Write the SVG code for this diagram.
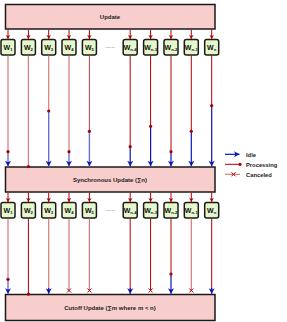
<svg xmlns="http://www.w3.org/2000/svg" width="287" height="322" viewBox="0 0 287 322">
<style>
.box{fill:#f8cecc;stroke:#1a1a1a;stroke-width:1.5}
.wk{fill:#e6f7cc;stroke:#1a1a1a;stroke-width:1.5}
.t{font-family:"Liberation Sans",Arial,sans-serif;font-weight:bold;font-size:6px;fill:#222;text-anchor:middle}
.wt{font-family:"Liberation Sans",Arial,sans-serif;font-weight:bold;font-size:7px;fill:#111;text-anchor:middle}
.sub{font-size:4.2px}
.lg{font-family:"Liberation Sans",Arial,sans-serif;font-weight:bold;font-size:5.8px;fill:#222}
.r{stroke:#b20000;stroke-width:1;fill:none}
.rl{stroke:#d67b7b;stroke-width:1.2;fill:none}
.b{stroke:#0a14b8;stroke-width:1.2;fill:none;marker-end:url(#ab)}
.bl{stroke:#6b6fd0;stroke-width:1.4;fill:none;marker-end:url(#ab)}
.d{fill:#a80000}
.x{stroke:#b20000;stroke-width:1;fill:none}
.sa{stroke:#b20000;stroke-width:1;fill:none;marker-end:url(#ar)}
</style>
<defs>
<marker id="ab" markerUnits="userSpaceOnUse" markerWidth="8" markerHeight="8" viewBox="-7 -4 8 8" refX="0" refY="0" orient="auto">
<path d="M-5.5,-3 L0,0 L-5.5,3 L-4,0 Z" fill="#0a14b8"/>
</marker>
<marker id="ar" markerUnits="userSpaceOnUse" markerWidth="6" markerHeight="6" viewBox="-5 -3 6 6" refX="0" refY="0" orient="auto">
<path d="M-4,-2.2 L0,0 L-4,2.2 L-3,0 Z" fill="#b20000"/>
</marker>
</defs>

<g id="update"><rect class="box" x="5.5" y="4.5" width="209.5" height="24.5"/><text class="t" x="110" y="19">Update</text></g>
<g id="sync"><rect class="box" x="5.5" y="167" width="209.5" height="25"/><text class="t" x="110" y="182">Synchronous Update (∑n)</text></g>
<g id="cutoff"><rect class="box" x="5.5" y="294.5" width="209.5" height="26"/><text class="t" x="110" y="310">Cutoff Update (∑m where m &lt; n)</text></g>

<g id="workers1">
<g id="w1a"><rect class="wk" x="1" y="39.5" width="14" height="15.5" rx="2"/><text class="wt" x="8" y="49.5">W<tspan class="sub" dy="1.5">1</tspan></text></g>
<g id="w2a"><rect class="wk" x="21.4" y="39.5" width="14" height="15.5" rx="2"/><text class="wt" x="28.4" y="49.5">W<tspan class="sub" dy="1.5">2</tspan></text></g>
<g id="w3a"><rect class="wk" x="41.7" y="39.5" width="14" height="15.5" rx="2"/><text class="wt" x="48.7" y="49.5">W<tspan class="sub" dy="1.5">3</tspan></text></g>
<g id="w4a"><rect class="wk" x="62" y="39.5" width="14" height="15.5" rx="2"/><text class="wt" x="69" y="49.5">W<tspan class="sub" dy="1.5">4</tspan></text></g>
<g id="w5a"><rect class="wk" x="82.4" y="39.5" width="14" height="15.5" rx="2"/><text class="wt" x="89.4" y="49.5">W<tspan class="sub" dy="1.5">5</tspan></text></g>
<text class="t" x="110" y="48" style="font-weight:normal">......</text>
<g id="wn4a"><rect class="wk" x="123.2" y="39.5" width="14" height="15.5" rx="2"/><text class="wt" x="130.2" y="49.5">W<tspan class="sub" dy="1.5">n-4</tspan></text></g>
<g id="wn3a"><rect class="wk" x="143.6" y="39.5" width="14" height="15.5" rx="2"/><text class="wt" x="150.6" y="49.5">W<tspan class="sub" dy="1.5">n-3</tspan></text></g>
<g id="wn2a"><rect class="wk" x="164" y="39.5" width="14" height="15.5" rx="2"/><text class="wt" x="171" y="49.5">W<tspan class="sub" dy="1.5">n-2</tspan></text></g>
<g id="wn1a"><rect class="wk" x="184.3" y="39.5" width="14" height="15.5" rx="2"/><text class="wt" x="191.3" y="49.5">W<tspan class="sub" dy="1.5">n-1</tspan></text></g>
<g id="wna"><rect class="wk" x="204.7" y="39.5" width="14" height="15.5" rx="2"/><text class="wt" x="211.7" y="49.5">W<tspan class="sub" dy="1.5">n</tspan></text></g>
</g>

<g id="workers2">
<g id="w1b"><rect class="wk" x="1" y="202.5" width="14" height="15.5" rx="2"/><text class="wt" x="8" y="212.5">W<tspan class="sub" dy="1.5">1</tspan></text></g>
<g id="w2b"><rect class="wk" x="21.4" y="202.5" width="14" height="15.5" rx="2"/><text class="wt" x="28.4" y="212.5">W<tspan class="sub" dy="1.5">2</tspan></text></g>
<g id="w3b"><rect class="wk" x="41.7" y="202.5" width="14" height="15.5" rx="2"/><text class="wt" x="48.7" y="212.5">W<tspan class="sub" dy="1.5">3</tspan></text></g>
<g id="w4b"><rect class="wk" x="62" y="202.5" width="14" height="15.5" rx="2"/><text class="wt" x="69" y="212.5">W<tspan class="sub" dy="1.5">4</tspan></text></g>
<g id="w5b"><rect class="wk" x="82.4" y="202.5" width="14" height="15.5" rx="2"/><text class="wt" x="89.4" y="212.5">W<tspan class="sub" dy="1.5">5</tspan></text></g>
<text class="t" x="110" y="211" style="font-weight:normal">......</text>
<g id="wn4b"><rect class="wk" x="123.2" y="202.5" width="14" height="15.5" rx="2"/><text class="wt" x="130.2" y="212.5">W<tspan class="sub" dy="1.5">n-4</tspan></text></g>
<g id="wn3b"><rect class="wk" x="143.6" y="202.5" width="14" height="15.5" rx="2"/><text class="wt" x="150.6" y="212.5">W<tspan class="sub" dy="1.5">n-3</tspan></text></g>
<g id="wn2b"><rect class="wk" x="164" y="202.5" width="14" height="15.5" rx="2"/><text class="wt" x="171" y="212.5">W<tspan class="sub" dy="1.5">n-2</tspan></text></g>
<g id="wn1b"><rect class="wk" x="184.3" y="202.5" width="14" height="15.5" rx="2"/><text class="wt" x="191.3" y="212.5">W<tspan class="sub" dy="1.5">n-1</tspan></text></g>
<g id="wnb"><rect class="wk" x="204.7" y="202.5" width="14" height="15.5" rx="2"/><text class="wt" x="211.7" y="212.5">W<tspan class="sub" dy="1.5">n</tspan></text></g>
</g>

<g id="connectors">
<path class="sa" d="M8,29.8V39"/><path class="sa" d="M28.4,29.8V39"/><path class="sa" d="M48.7,29.8V39"/><path class="sa" d="M69,29.8V39"/><path class="sa" d="M89.4,29.8V39"/>
<path class="sa" d="M130.2,29.8V39"/><path class="sa" d="M150.6,29.8V39"/><path class="sa" d="M171,29.8V39"/><path class="sa" d="M191.3,29.8V39"/><path class="sa" d="M211.7,29.8V39"/>
<path class="sa" d="M8,192.8V202"/><path class="sa" d="M28.4,192.8V202"/><path class="sa" d="M48.7,192.8V202"/><path class="sa" d="M69,192.8V202"/><path class="sa" d="M89.4,192.8V202"/>
<path class="sa" d="M130.2,192.8V202"/><path class="sa" d="M150.6,192.8V202"/><path class="sa" d="M171,192.8V202"/><path class="sa" d="M191.3,192.8V202"/><path class="sa" d="M211.7,192.8V202"/>

<path class="rl" d="M8,55.5V151.7 M28.4,55.5V166.5 M48.7,55.5V111 M69,55.5V151.7"/>
<path class="r" style="stroke:#c04545" d="M89.4,55.5V131.3"/>
<path class="r" d="M130.2,55.5V146.7 M150.6,55.5V126.3 M171,55.5V151.7 M191.3,55.5V131.3 M211.7,55.5V105.7"/>
<path class="bl" d="M8,151.7V166.3"/><path class="bl" d="M48.7,111V166.3"/><path class="bl" d="M69,151.7V166.3"/><path class="bl" d="M89.4,131.3V166.3"/>
<path class="b" d="M130.2,146.7V166.3"/><path class="b" d="M150.6,126.3V166.3"/><path class="b" d="M171,151.7V166.3"/><path class="b" d="M191.3,131.3V166.3"/><path class="b" d="M211.7,105.7V166.3"/>
<g class="d">
<circle cx="8" cy="151.7" r="1.6"/><circle cx="28.4" cy="166.6" r="1.6"/><circle cx="48.7" cy="111" r="1.6"/><circle cx="69" cy="151.7" r="1.6"/><circle cx="89.4" cy="131.3" r="1.6"/>
<circle cx="130.2" cy="146.7" r="1.6"/><circle cx="150.6" cy="126.3" r="1.6"/><circle cx="171" cy="151.7" r="1.6"/><circle cx="191.3" cy="131.3" r="1.6"/><circle cx="211.7" cy="105.7" r="1.6"/>
</g>

<path class="rl" d="M8,218.5V279.3 M48.7,218.5V289 M69,218.5V290.5 M89.4,218.5V290.5 M191.3,218.5V290.5"/>
<path class="r" d="M28.4,218.5V294 M130.2,218.5V289 M150.6,218.5V290.5 M171,218.5V274 M211.7,218.5V289"/>
<path class="bl" d="M8,279.3V293.8"/>
<path class="b" d="M171,274V293.8"/><path class="b" d="M48.7,288V293.8"/><path class="b" d="M130.2,288V293.8"/><path class="b" d="M211.7,288V293.8"/>
<g class="d">
<circle cx="8" cy="279.3" r="1.6"/><circle cx="28.4" cy="294.2" r="1.6"/><circle cx="171" cy="274" r="1.6"/>
</g>
<path class="x" d="M67,288.5l4,4M71,288.5l-4,4 M87.4,288.5l4,4M91.4,288.5l-4,4 M148.6,288.5l4,4M152.6,288.5l-4,4 M189.3,288.5l4,4M193.3,288.5l-4,4"/>
</g>

<g id="legend">
<path class="b" d="M225,154.3H239.5"/>
<text class="lg" x="246" y="156.5">Idle</text>
<path class="r" d="M225,164.3H240"/>
<circle class="d" cx="240" cy="164.3" r="1.6"/>
<text class="lg" x="246" y="166.5">Processing</text>
<path class="rl" d="M225,174.3H240"/>
<path class="x" d="M231.5,172.3l4,4M235.5,172.3l-4,4"/>
<text class="lg" x="246" y="176.5">Canceled</text>
</g>
</svg>
